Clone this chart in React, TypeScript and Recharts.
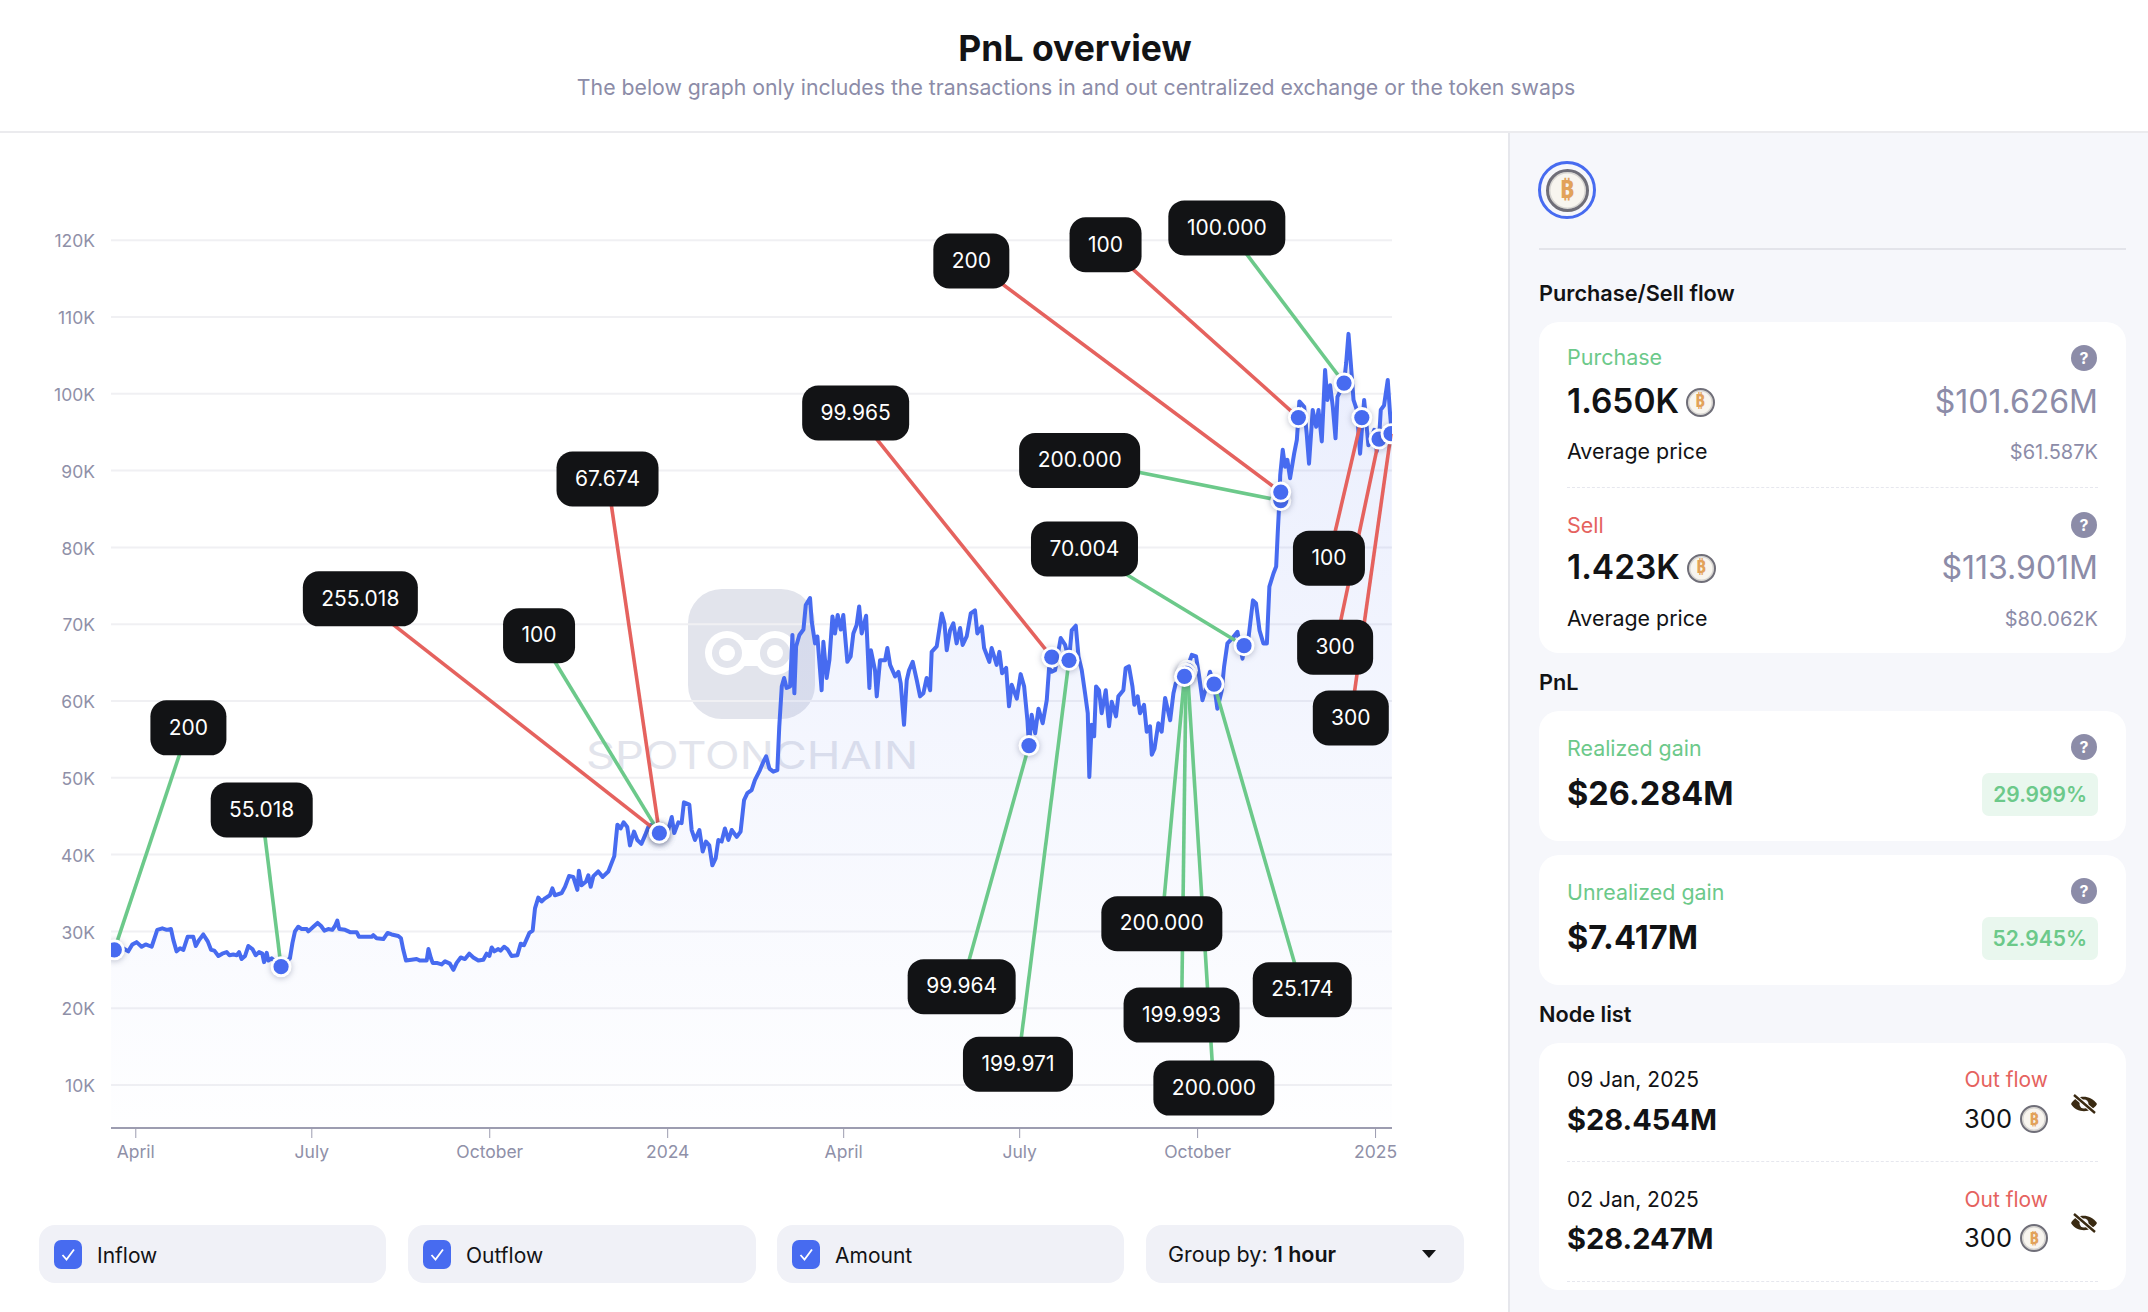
import React from "react";
import {
  ComposedChart,
  Area,
  Scatter,
  XAxis,
  YAxis,
  CartesianGrid,
  ReferenceLine,
  ReferenceDot,
} from "recharts";

// day = days since 1 April 2023, price = BTC price in thousand USD
const priceSpring2023: [number, number][] = [
  [-12.8, 27.7], [-8.2, 28.1], [-5.9, 27.7], [-3.9, 27.4], [-1.8, 28.3], [0.4, 28.6], [3.0, 28.0], [5.1, 28.3],
  [8.2, 28.0], [9.9, 29.3], [11.1, 30.2], [13.7, 30.4], [16.0, 30.2], [18.2, 30.3], [19.4, 28.9], [21.1, 27.4],
  [22.9, 27.8], [24.6, 27.6], [26.8, 29.3], [29.7, 29.3], [31.0, 28.1], [32.8, 28.9], [34.9, 29.6], [37.2, 28.7],
  [38.9, 27.6], [40.6, 27.5], [42.7, 26.8], [44.7, 27.1], [47.0, 27.3], [48.4, 26.9], [50.4, 27.0], [52.2, 26.9],
  [53.4, 27.3], [54.7, 26.4], [56.5, 26.8], [58.2, 28.1], [60.3, 27.7], [62.0, 26.9], [63.7, 27.3], [65.4, 27.1],
  [66.3, 26.0], [67.7, 27.2], [68.5, 26.2], [70.2, 26.5], [74.9, 25.4], [79.7, 26.5], [81.0, 28.5], [82.3, 30.0],
];
const priceSummer2023: [number, number][] = [
  [84.0, 30.6], [85.8, 30.3], [88.4, 30.3], [89.2, 30.0], [91.8, 30.6], [94.0, 31.1], [95.8, 30.7], [97.5, 30.1],
  [99.5, 30.3], [101.6, 30.2], [103.0, 30.7], [104.2, 31.4], [105.2, 30.3], [108.2, 30.2], [110.8, 29.9], [114.2, 29.9],
  [115.4, 29.3], [118.5, 29.3], [122.0, 29.3], [122.8, 29.5], [124.5, 29.1], [128.0, 29.0], [130.2, 29.8], [132.3, 29.6],
  [135.7, 29.4], [137.1, 29.1], [138.3, 27.6], [139.7, 26.2], [142.6, 26.3], [145.2, 26.4], [147.0, 26.2], [150.4, 26.2],
  [151.3, 27.7], [152.6, 26.5], [153.5, 25.9], [155.6, 25.9], [158.1, 25.7], [159.9, 26.1], [162.4, 25.8], [164.2, 25.0],
  [165.9, 25.9], [168.0, 26.6], [170.2, 26.4], [172.4, 27.1], [174.5, 26.6], [177.1, 26.2], [179.7, 26.3], [181.4, 27.1],
];
const priceAutumn2023: [number, number][] = [
  [182.8, 26.8], [184.0, 27.9], [185.4, 27.4], [187.4, 27.7], [188.6, 27.5], [190.4, 28.0], [192.1, 27.7], [194.3, 26.8],
  [197.3, 26.9], [199.0, 28.4], [200.7, 28.2], [203.5, 29.8], [205.2, 30.1], [206.4, 33.0], [208.1, 34.4], [209.8, 33.9],
  [211.6, 34.3], [214.1, 34.7], [215.4, 35.6], [216.7, 34.7], [220.2, 35.0], [221.9, 35.8], [224.0, 37.2], [226.2, 37.1],
  [228.3, 35.4], [229.1, 37.9], [230.5, 36.0], [232.8, 36.5], [234.0, 37.3], [235.2, 35.8], [236.6, 37.2], [239.1, 37.8],
  [241.4, 37.1], [244.3, 37.8], [247.4, 39.8], [249.0, 43.9], [250.7, 43.4], [252.2, 44.2], [254.1, 43.6], [255.5, 41.2],
  [257.6, 43.0], [259.3, 41.9], [261.4, 41.4], [263.3, 42.5], [265.0, 43.6], [266.7, 43.9], [270.7, 42.8], [275.3, 43.2],
];
const priceWinter2024: [number, number][] = [
  [277.1, 44.9], [278.4, 42.8], [280.5, 44.2], [282.2, 44.1], [283.4, 46.8], [286.2, 46.5], [287.4, 43.2], [289.1, 41.9],
  [291.4, 43.2], [293.1, 40.4], [294.8, 41.7], [296.5, 41.2], [298.1, 38.6], [299.8, 39.5], [301.2, 41.9], [302.9, 41.7],
  [304.6, 43.4], [306.4, 41.9], [308.1, 43.2], [310.7, 42.3], [312.7, 43.0], [314.5, 47.1], [316.2, 48.0], [318.4, 48.4],
  [320.1, 49.7], [322.7, 51.0], [324.5, 52.1], [325.9, 52.8], [327.6, 51.2], [329.6, 50.8], [331.7, 51.0], [332.7, 56.7],
  [334.0, 61.9], [335.2, 63.0], [336.5, 61.7], [338.3, 61.9], [339.5, 68.6], [340.5, 61.0], [341.4, 67.1], [343.1, 68.6],
  [345.2, 69.3], [346.4, 72.5], [348.6, 73.4], [349.5, 70.3], [351.2, 67.5], [352.4, 68.4], [354.6, 61.4], [355.5, 67.7],
  [357.2, 63.0], [358.6, 65.3],
];
const priceSpring2024: [number, number][] = [
  [360.2, 71.0], [361.5, 68.8], [362.9, 71.2], [364.5, 69.3], [365.8, 71.2], [367.9, 65.1], [369.6, 65.8], [371.0, 68.8],
  [372.7, 69.9], [374.0, 72.3], [375.3, 68.8], [377.6, 71.1], [379.3, 61.7], [380.1, 66.6], [382.2, 64.0], [383.1, 60.6],
  [384.8, 65.3], [387.4, 65.3], [388.6, 66.9], [390.0, 64.7], [392.6, 63.2], [394.3, 63.8], [395.5, 62.3], [397.2, 56.9],
  [398.6, 62.7], [399.8, 64.0], [401.7, 65.1], [403.8, 62.7], [405.5, 60.6], [407.2, 61.0], [408.9, 63.0], [410.7, 61.4],
  [411.5, 66.4], [414.1, 67.1], [416.7, 71.4], [418.1, 70.1], [419.3, 66.6], [421.0, 69.2], [422.7, 70.1], [424.4, 67.5],
  [426.2, 69.5], [427.5, 67.3], [429.6, 68.4], [431.7, 71.4], [433.9, 71.8], [435.1, 68.8], [437.4, 69.7], [438.6, 66.9],
  [441.3, 65.1], [442.5, 66.9], [445.1, 64.7], [446.5, 66.4], [447.9, 63.6], [450.0, 64.3], [451.5, 59.3], [452.9, 62.1],
  [455.5, 60.3],
];
const priceSummer2024: [number, number][] = [
  [457.5, 63.5], [459.3, 61.9], [461.0, 57.5], [461.8, 54.2], [463.2, 58.2], [465.0, 55.8], [466.7, 59.0], [468.9, 57.1],
  [471.0, 60.1], [472.2, 64.3], [473.6, 63.8], [475.3, 64.0], [478.2, 68.2], [480.5, 67.3], [482.5, 65.3], [483.9, 69.2],
  [486.0, 69.8], [487.4, 65.8], [489.1, 64.0], [490.8, 61.0], [492.2, 58.4], [493.0, 50.1], [494.2, 56.9], [495.5, 55.4],
  [496.5, 61.9], [498.0, 61.4], [499.4, 58.4], [501.5, 61.4], [503.2, 56.7], [504.6, 59.9], [506.8, 58.0], [508.0, 60.6],
  [510.6, 61.4], [511.8, 64.3], [513.5, 64.5], [515.3, 61.9], [516.3, 59.5], [518.0, 60.6], [519.2, 58.4], [521.3, 59.5],
  [522.7, 56.0], [524.4, 56.7], [525.3, 53.0], [526.7, 53.8], [528.7, 57.1], [530.4, 56.0], [532.2, 60.4], [534.8, 57.5],
  [536.5, 61.0], [537.7, 62.3], [542.2, 63.2], [546.0, 66.0],
];
const priceAutumn2024: [number, number][] = [
  [548.2, 65.8], [549.8, 63.2], [551.5, 60.1], [553.0, 61.4], [555.4, 63.8], [557.5, 62.2], [559.2, 59.0], [561.5, 61.4],
  [562.7, 64.5], [564.4, 67.5], [567.0, 68.2], [569.6, 69.0], [572.2, 65.5], [573.2, 67.1], [575.3, 68.2], [577.6, 73.1],
  [579.2, 72.7], [581.0, 69.2], [583.0, 67.5], [584.8, 67.5], [586.1, 74.9], [588.2, 76.6], [589.6, 77.5], [590.4, 81.8],
  [591.3, 86.2], [591.7, 89.4], [593.0, 92.7], [594.2, 90.5], [595.4, 91.4], [596.8, 89.0], [598.9, 92.2], [600.3, 94.0],
  [601.1, 97.0], [601.6, 99.0], [604.1, 98.3], [605.4, 94.8], [606.6, 90.9], [608.5, 97.9], [610.3, 95.7], [611.5, 97.9],
  [613.2, 93.8], [614.9, 103.1], [616.1, 99.2], [617.5, 101.1], [618.9, 98.3], [620.3, 94.2], [621.3, 99.6], [624.7, 101.4],
  [625.8, 104.0], [627.0, 107.8], [628.2, 104.0], [629.6, 99.2], [631.3, 97.9], [633.0, 92.2], [635.1, 99.2], [637.3, 93.3],
  [640.3, 95.3], [641.6, 92.5], [642.8, 94.1], [643.7, 97.9], [645.4, 98.5], [647.3, 101.8], [648.5, 97.4], [649.4, 94.8],
];

const yTicks = [10, 20, 30, 40, 50, 60, 70, 80, 90, 100, 110, 120];
const xTicks = [0, 91, 183, 275, 366, 457, 549, 641];
const xTickLabels = ["April", "July", "October", "2024", "April", "July", "October", "2025"];

type Node = { label: string; flow: "in" | "out"; day: number; price: number; labelDay: number; labelPrice: number };
const chartNodes: Node[] = [
  { label: "200", flow: "in", day: -11.1, price: 27.6, labelDay: 27.2, labelPrice: 56.5 },
  { label: "55.018", flow: "in", day: 75.1, price: 25.4, labelDay: 65.1, labelPrice: 45.8 },
  { label: "255.018", flow: "out", day: 270.7, price: 42.8, labelDay: 116.1, labelPrice: 73.3 },
  { label: "100", flow: "in", day: 270.7, price: 42.8, labelDay: 208.5, labelPrice: 68.5 },
  { label: "67.674", flow: "out", day: 270.7, price: 42.8, labelDay: 243.9, labelPrice: 88.9 },
  { label: "99.965", flow: "out", day: 473.6, price: 65.7, labelDay: 372.2, labelPrice: 97.5 },
  { label: "99.964", flow: "in", day: 461.8, price: 54.2, labelDay: 427.0, labelPrice: 22.8 },
  { label: "199.971", flow: "in", day: 482.5, price: 65.3, labelDay: 456.1, labelPrice: 12.7 },
  { label: "200.000", flow: "in", day: 543.7, price: 64.0, labelDay: 557.4, labelPrice: 9.6 },
  { label: "199.993", flow: "in", day: 543.0, price: 63.6, labelDay: 540.7, labelPrice: 19.1 },
  { label: "200.000", flow: "in", day: 542.2, price: 63.2, labelDay: 530.5, labelPrice: 31.0 },
  { label: "25.174", flow: "in", day: 557.5, price: 62.2, labelDay: 603.1, labelPrice: 22.4 },
  { label: "70.004", flow: "in", day: 573.0, price: 67.2, labelDay: 490.5, labelPrice: 79.8 },
  { label: "200.000", flow: "in", day: 592.0, price: 86.1, labelDay: 488.0, labelPrice: 91.3 },
  { label: "200", flow: "out", day: 592.0, price: 87.2, labelDay: 432.0, labelPrice: 117.3 },
  { label: "100", flow: "out", day: 601.1, price: 96.9, labelDay: 501.4, labelPrice: 119.4 },
  { label: "100.000", flow: "in", day: 624.7, price: 101.4, labelDay: 564.1, labelPrice: 121.6 },
  { label: "100", flow: "out", day: 633.9, price: 96.9, labelDay: 616.9, labelPrice: 78.6 },
  { label: "300", flow: "out", day: 642.8, price: 94.1, labelDay: 620.1, labelPrice: 67.0 },
  { label: "300", flow: "out", day: 649.0, price: 94.8, labelDay: 628.2, labelPrice: 57.8 },
];

const filterOptions = ["Inflow", "Outflow", "Amount"];

const BLUE = "#476bf0";
const GREEN = "#6cc98a";
const RED = "#e5625e";
const INK = "#121315";
const GREY = "#8c8ca8";

const priceRows = [
  ...priceSpring2023,
  ...priceSummer2023,
  ...priceAutumn2023,
  ...priceWinter2024,
  ...priceSpring2024,
  ...priceSummer2024,
  ...priceAutumn2024,
].map(([day, price]) => ({ day, price }));

const measure = (() => {
  const ctx = document.createElement("canvas").getContext("2d")!;
  return (text: string, font: string) => {
    ctx.font = font;
    return ctx.measureText(text).width;
  };
})();

function NodeDot(props: any) {
  const { cx, cy } = props;
  return (
    <g style={{ filter: "drop-shadow(0 1px 3px rgba(40,50,90,0.3))" }}>
      <circle cx={cx} cy={cy} r={10.5} fill="#fff" />
      <circle cx={cx} cy={cy} r={7.6} fill={BLUE} />
    </g>
  );
}

function NodeLabel(props: any) {
  const { cx, cy, text } = props;
  const w = Math.round(measure(text, "400 21px Inter")) + 37;
  const h = 55;
  return (
    <g>
      <rect x={cx - w / 2} y={cy - h / 2} width={w} height={h} rx={16} ry={16} fill={INK} />
      <text
        x={cx}
        y={cy + 1}
        textAnchor="middle"
        dominantBaseline="middle"
        fontFamily="Inter"
        fontSize={21}
        fill="#fff"
      >
        {text}
      </text>
    </g>
  );
}

function T(props: {
  x: number;
  y: number;
  size: number;
  weight?: number;
  color?: string;
  right?: boolean;
  center?: boolean;
  children: React.ReactNode;
}) {
  const { x, y, size, weight = 400, color = INK, right, center, children } = props;
  const tx = right ? "-100%" : center ? "-50%" : "0";
  return (
    <div
      style={{
        position: "absolute",
        left: x,
        top: y + 1,
        transform: `translate(${tx}, -50%)`,
        fontSize: size,
        fontWeight: weight,
        color,
        lineHeight: 1,
        whiteSpace: "nowrap",
      }}
    >
      {children}
    </div>
  );
}

function Coin({ x, y, d }: { x: number; y: number; d: number }) {
  return (
    <div
      style={{
        position: "absolute",
        left: x - d / 2,
        top: y - d / 2,
        width: d,
        height: d,
        boxSizing: "border-box",
        borderRadius: "50%",
        border: `${Math.max(2, d * 0.07)}px solid #6f6e78`,
        boxShadow: "inset 0 0 0 1.5px #d8d6d2",
        background: "#f8f5ef",
        display: "flex",
        alignItems: "center",
        justifyContent: "center",
        color: "#e2a25a",
        fontFamily: "'DejaVu Sans', 'Noto Sans'",
        fontWeight: 700,
        fontSize: d * 0.6,
        lineHeight: 1,
      }}
    >
      ₿
    </div>
  );
}

function Help({ x, y }: { x: number; y: number }) {
  return (
    <div
      style={{
        position: "absolute",
        left: x - 13,
        top: y - 13,
        width: 26,
        height: 26,
        borderRadius: "50%",
        background: GREY,
        color: "#fff",
        fontSize: 16,
        fontWeight: 700,
        lineHeight: "26px",
        textAlign: "center",
      }}
    >
      ?
    </div>
  );
}

function EyeOff({ x, y }: { x: number; y: number }) {
  return (
    <svg style={{ position: "absolute", left: x - 14, top: y - 12 }} width={28} height={24} viewBox="0 0 28 24">
      <path d="M1 12 C6 3 20 2 27 12 C22 21 7 22 1 12 Z" fill="#3a2a12" />
      <circle cx={14} cy={12} r={4.5} fill="#f5f6fa" />
      <path d="M4 3 L25 21" stroke="#fff" strokeWidth={4.5} />
      <path d="M4 3 L25 21" stroke="#3a2a12" strokeWidth={2.4} />
    </svg>
  );
}

function Card({ top, height }: { top: number; height: number }) {
  return (
    <div
      style={{
        position: "absolute",
        left: 1539,
        top,
        width: 587,
        height,
        background: "#fff",
        borderRadius: 20,
      }}
    />
  );
}

function Dashed({ y }: { y: number }) {
  return (
    <div
      style={{
        position: "absolute",
        left: 1567,
        width: 531,
        top: y,
        borderTop: "1px dashed #e6e7ee",
      }}
    />
  );
}

function Badge({ top, text }: { top: number; text: string }) {
  return (
    <div
      style={{
        position: "absolute",
        right: 2148 - 2098,
        top,
        height: 43,
        padding: "0 11px",
        borderRadius: 7,
        background: "#e9f7ee",
        color: GREEN,
        fontSize: 21,
        fontWeight: 600,
        lineHeight: "43px",
      }}
    >
      {text}
    </div>
  );
}

function Pill({ left, width, children }: { left: number; width: number; children: React.ReactNode }) {
  return (
    <div
      style={{
        position: "absolute",
        left,
        top: 1225,
        width,
        height: 58,
        borderRadius: 16,
        background: "#f0f1f7",
      }}
    >
      {children}
    </div>
  );
}

function Check({ left }: { left: number }) {
  return (
    <svg style={{ position: "absolute", left, top: 15 }} width={28} height={29} viewBox="0 0 28 29">
      <rect width={28} height={29} rx={7} fill={BLUE} />
      <path d="M8.5 15 L12.5 19.5 L20 9.5" fill="none" stroke="#fff" strokeWidth={1.8} />
    </svg>
  );
}

function Watermark() {
  return (
    <svg style={{ position: "absolute", left: 0, top: 0 }} width={1500} height={1200}>
      <rect x={688} y={589} width={127} height={130} rx={34} fill="#e2e4ec" />
      <rect x={727} y={640} width={48} height={26} fill="#fff" />
      <circle cx={727} cy={653} r={22} fill="#fff" />
      <circle cx={775} cy={653} r={22} fill="#fff" />
      <circle cx={727} cy={653} r={15} fill="#e2e4ec" />
      <circle cx={775} cy={653} r={15} fill="#e2e4ec" />
      <circle cx={727} cy={653} r={8} fill="#fff" />
      <circle cx={775} cy={653} r={8} fill="#fff" />
      <text
        x={586}
        y={769}
        fontFamily="Inter"
        fontSize={38}
        fontWeight={400}
        fill="#e2e4ec"
        textLength={332}
        lengthAdjust="spacingAndGlyphs"
      >
        SPOTONCHAIN
      </text>
    </svg>
  );
}

export default function App() {
  return (
    <div
      style={{
        position: "absolute",
        left: 0,
        top: 0,
        width: 2148,
        height: 1312,
        overflow: "hidden",
        background: "#fff",
        fontFamily: "Inter, sans-serif",
      }}
    >
      <T x={1075} y={48} size={35.5} weight={700} center>
        PnL overview
      </T>
      <T x={1076} y={87} size={21.25} color={GREY} center>
        The below graph only includes the transactions in and out centralized exchange or the token swaps
      </T>
      <div style={{ position: "absolute", left: 0, top: 131, width: 2148, height: 2, background: "#ebebee" }} />

      <Watermark />

      <div style={{ position: "absolute", left: 0, top: 140 }}>
        <ComposedChart
          width={1500}
          height={1040}
          data={priceRows}
          margin={{ top: 20, right: 108, bottom: 0, left: 0 }}
        >
          <defs>
            <linearGradient id="priceFill" x1="0" y1="0" x2="0" y2="1">
              <stop offset="0%" stopColor="#3d63f0" stopOpacity={0.11} />
              <stop offset="100%" stopColor="#3d63f0" stopOpacity={0.005} />
            </linearGradient>
          </defs>
          <CartesianGrid horizontal vertical={false} syncWithTicks stroke="#f0f0f3" strokeWidth={2} />
          <XAxis
            dataKey="day"
            type="number"
            domain={[-12.82, 649.5]}
            allowDataOverflow
            ticks={xTicks}
            tickFormatter={(v: number) => xTickLabels[xTicks.indexOf(v)]}
            interval={0}
            height={52}
            axisLine={{ stroke: "#9c9cb0", strokeWidth: 2 }}
            tickLine={{ stroke: "#9c9cb0", strokeWidth: 1 }}
            tickSize={10}
            tickMargin={8}
            tick={{ fill: "#8f90a8", fontSize: 17.5, fontFamily: "Inter" }}
          />
          <YAxis
            dataKey="price"
            type="number"
            domain={[4.4, 130.44]}
            allowDataOverflow
            ticks={yTicks}
            interval={0}
            width={111}
            tickFormatter={(v: number) => `${v}K`}
            axisLine={false}
            tickLine={false}
            tickMargin={8}
            tickSize={8}
            tick={{ fill: "#8f90a8", fontSize: 17.5, fontFamily: "Inter", dy: 1 }}
          />
          <Area
            dataKey="price"
            type="linear"
            stroke={BLUE}
            strokeWidth={4}
            strokeLinejoin="round"
            fill="url(#priceFill)"
            fillOpacity={1}
            dot={false}
            activeDot={false}
            isAnimationActive={false}
          />
          {chartNodes.map((n, i) => (
            <ReferenceLine
              key={`link-${i}`}
              segment={[
                { x: n.day, y: n.price },
                { x: n.labelDay, y: n.labelPrice },
              ]}
              stroke={n.flow === "in" ? GREEN : RED}
              strokeWidth={3.6}
              ifOverflow="visible"
            />
          ))}
          <Scatter
            data={chartNodes}
            dataKey="price"
            shape={(p: any) => <NodeDot {...p} />}
            isAnimationActive={false}
          />
          {chartNodes.map((n, i) => (
            <ReferenceDot
              key={`tag-${i}`}
              x={n.labelDay}
              y={n.labelPrice}
              ifOverflow="visible"
              zIndex={2000}
              shape={(p: any) => <NodeLabel {...p} text={n.label} />}
            />
          ))}
        </ComposedChart>
      </div>

      <Pill left={39} width={347}>
        <Check left={15} />
        <T x={58} y={29} size={21}>{filterOptions[0]}</T>
      </Pill>
      <Pill left={408} width={348}>
        <Check left={15} />
        <T x={58} y={29} size={21}>{filterOptions[1]}</T>
      </Pill>
      <Pill left={777} width={347}>
        <Check left={15} />
        <T x={58} y={29} size={21}>{filterOptions[2]}</T>
      </Pill>
      <Pill left={1146} width={318}>
        <T x={22} y={29} size={21.5}>
          Group by: <b style={{ fontWeight: 600 }}>1 hour</b>
        </T>
        <svg style={{ position: "absolute", left: 275, top: 24 }} width={16} height={10}>
          <path d="M1 1 L15 1 L8 9 Z" fill={INK} />
        </svg>
      </Pill>

      {/* sidebar */}
      <div
        style={{
          position: "absolute",
          left: 1508,
          top: 133,
          width: 640,
          height: 1179,
          boxSizing: "border-box",
          background: "#f6f7fb",
          borderLeft: "2px solid #e6e7ec",
        }}
      />
      <div
        style={{
          position: "absolute",
          left: 1538,
          top: 161,
          width: 58,
          height: 58,
          boxSizing: "border-box",
          borderRadius: "50%",
          border: `3.5px solid ${BLUE}`,
        }}
      />
      <Coin x={1567} y={190} d={43} />
      <div style={{ position: "absolute", left: 1539, top: 248, width: 587, height: 2, background: "#e3e4ea" }} />

      <T x={1539} y={293} size={21.7} weight={600}>Purchase/Sell flow</T>
      <Card top={322} height={331} />
      <T x={1567} y={357} size={21.5} color={GREEN}>Purchase</T>
      <Help x={2084} y={358} />
      <T x={1567} y={401} size={33.5} weight={600}>1.650K</T>
      <Coin x={1700} y={402} d={29} />
      <T x={2098} y={401} size={32} color={GREY} right>$101.626M</T>
      <T x={1567} y={451} size={21.4}>Average price</T>
      <T x={2098} y={451} size={20} color={GREY} right>$61.587K</T>
      <Dashed y={487} />
      <T x={1567} y={525} size={21.5} color={RED}>Sell</T>
      <Help x={2084} y={525} />
      <T x={1567} y={567} size={33.5} weight={600}>1.423K</T>
      <Coin x={1701} y={568} d={29} />
      <T x={2098} y={567} size={32} color={GREY} right>$113.901M</T>
      <T x={1567} y={618} size={21.4}>Average price</T>
      <T x={2098} y={618} size={20} color={GREY} right>$80.062K</T>

      <T x={1539} y={682} size={21.7} weight={600}>PnL</T>
      <Card top={711} height={130} />
      <T x={1567} y={748} size={21.4} color={GREEN}>Realized gain</T>
      <Help x={2084} y={747} />
      <T x={1567} y={793} size={32.5} weight={700}>$26.284M</T>
      <Badge top={773} text="29.999%" />

      <Card top={855} height={130} />
      <T x={1567} y={892} size={21.4} color={GREEN}>Unrealized gain</T>
      <Help x={2084} y={891} />
      <T x={1567} y={937} size={32.5} weight={700}>$7.417M</T>
      <Badge top={917} text="52.945%" />

      <T x={1539} y={1014} size={21.7} weight={600}>Node list</T>
      <Card top={1043} height={247} />
      <T x={1567} y={1078} size={21}>09 Jan, 2025</T>
      <T x={2048} y={1078} size={21} color={RED} right>Out flow</T>
      <T x={1567} y={1118} size={29} weight={700}>$28.454M</T>
      <T x={2012} y={1118} size={25.5} right>300</T>
      <Coin x={2034} y={1119} d={28} />
      <EyeOff x={2084} y={1104} />
      <Dashed y={1161} />
      <T x={1567} y={1198} size={21}>02 Jan, 2025</T>
      <T x={2048} y={1198} size={21} color={RED} right>Out flow</T>
      <T x={1567} y={1237} size={29} weight={700}>$28.247M</T>
      <T x={2012} y={1237} size={25.5} right>300</T>
      <Coin x={2034} y={1238} d={28} />
      <EyeOff x={2084} y={1223} />
      <Dashed y={1281} />
    </div>
  );
}
